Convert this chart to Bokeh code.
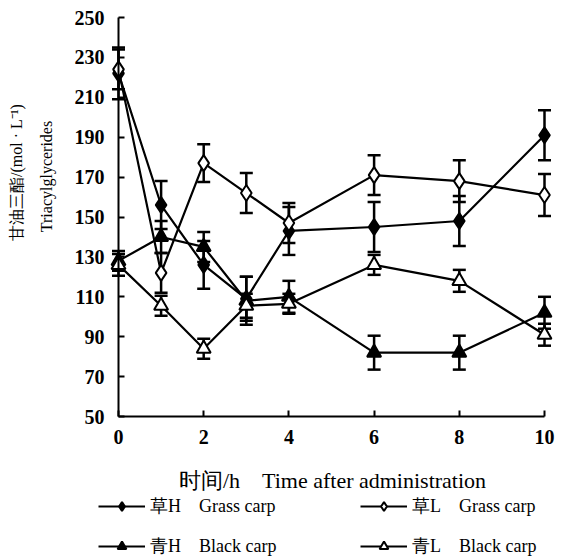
import math
from bokeh.plotting import figure
from bokeh.models import (ColumnDataSource, Whisker, TeeHead, FixedTicker, Label,
                          Legend, LegendItem, Range1d, LinearAxis)
from bokeh.embed import file_html
from bokeh.resources import INLINE

# ---- data ----
hours = [0, 1, 2, 3, 4, 6, 8, 10]

grass_h = [222, 156, 126, 109, 143, 145, 148, 191]
grass_h_err = [13, 12, 12, 11, 12, 12.5, 12.5, 12.5]

grass_l = [224, 122, 177, 162, 147, 171, 168, 161]
grass_l_err = [10, 10, 9.5, 10, 10, 10, 10.5, 10.5]

black_h = [128, 140, 135, 108, 110, 82, 82, 102]
black_h_err = [5, 8, 7.5, 12, 8, 8.5, 8.5, 8]

black_l = [126, 105.5, 84, 105.5, 106.5, 126, 118, 91]
black_l_err = [5.5, 5, 5, 6, 5, 5, 5.5, 5.5]

x_ticks = [0, 2, 4, 6, 8, 10]
y_ticks = [50, 70, 90, 110, 130, 150, 170, 190, 210, 230, 250]

NB = "\u00a0"
series_labels = ["草H" + NB * 4 + "Grass carp", "草L" + NB * 4 + "Grass carp",
                 "青H" + NB * 4 + "Black carp", "青L" + NB * 4 + "Black carp"]
series_vals = [grass_h, grass_l, black_h, black_l]
series_errs = [grass_h_err, grass_l_err, black_h_err, black_l_err]
series_marker = ["diamond", "diamond", "triangle", "triangle"]
series_fill = ["black", "white", "black", "white"]

y_title_en = "Triacylglycerides"
y_title_cn = "甘油三酯/(mol · L⁻¹)"
x_title = "时间/h" + NB * 4 + "Time after administration"

SERIF = "Liberation Serif"

# ---- layout (pixels): the frame covers the whole canvas ----
W, H = 566, 560
X0_PX, X10_PX = 118, 544      # where x = 0 and x = 10 fall
Y250_PX, Y50_PX = 17, 416     # where y = 250 and y = 50 fall
sx = (X10_PX - X0_PX) / 10.0
sy = (Y50_PX - Y250_PX) / 200.0
x_start = 0 - X0_PX / sx
x_end = 10 + (W - X10_PX) / sx
y_end = 250 + Y250_PX / sy
y_start = 50 - (H - Y50_PX) / sy


def dx(px):
    return x_start + px / sx


def dy(py):
    return y_end - py / sy


p = figure(width=W, height=H, min_border=0,
           x_range=Range1d(x_start, x_end), y_range=Range1d(y_start, y_end),
           x_axis_location=None, y_axis_location=None,
           output_backend="svg", toolbar_location=None)
p.outline_line_color = None
p.grid.visible = False
p.background_fill_color = "white"
p.border_fill_color = "white"

xa = LinearAxis(fixed_location=50, bounds=(0, 10), ticker=FixedTicker(ticks=x_ticks))
ya = LinearAxis(fixed_location=0, bounds=(50, 250), ticker=FixedTicker(ticks=y_ticks))
for ax in (xa, ya):
    ax.axis_line_width = 2
    ax.axis_line_color = "black"
    ax.major_tick_line_width = 2
    ax.major_tick_line_color = "black"
    ax.major_tick_in = 6
    ax.major_tick_out = 0
    ax.minor_tick_line_color = None
    ax.major_label_text_font = SERIF
    ax.major_label_text_font_size = "20px"
    ax.major_label_text_font_style = "bold"
    ax.major_label_text_color = "black"
xa.major_label_standoff = 13
ya.major_label_standoff = 14
p.add_layout(xa, "below")
p.add_layout(ya, "left")

line_rs = []
marker_rs = []
for vals in series_vals:
    line_rs.append(p.line(hours, vals, line_color="black", line_width=2.2))

for vals, errs in zip(series_vals, series_errs):
    src = ColumnDataSource(dict(
        x=hours,
        upper=[v + e for v, e in zip(vals, errs)],
        lower=[v - e for v, e in zip(vals, errs)],
    ))
    p.add_layout(Whisker(source=src, base="x", upper="upper", lower="lower",
                         dimension="height", line_width=2.5, line_color="black",
                         upper_head=TeeHead(size=13, line_width=2.5, line_color="black"),
                         lower_head=TeeHead(size=13, line_width=2.5, line_color="black")))

for vals, marker, fill in zip(series_vals, series_marker, series_fill):
    size = 16 if marker == "diamond" else 14
    marker_rs.append(p.scatter(hours, vals, marker=marker, size=size, fill_color=fill,
                               line_color="black", line_width=2))

items = [LegendItem(label=series_labels[i], renderers=[line_rs[i], marker_rs[i]])
         for i in range(4)]
common = dict(orientation="vertical", glyph_width=47, glyph_height=22,
              label_height=22, spacing=16, padding=0, margin=0,
              border_line_color=None, background_fill_alpha=0,
              label_text_font=SERIF, label_text_font_size="18px",
              label_text_color="black", label_standoff=5)
p.add_layout(Legend(items=[items[0], items[2]], location=(98, 2), **common))
p.add_layout(Legend(items=[items[1], items[3]], location=(360, 2), **common))

p.add_layout(Label(x=dx(46), y=dy(176), text=y_title_en, angle=math.pi / 2,
                   text_align="center", text_baseline="middle",
                   text_font=SERIF, text_font_size="16px", text_color="black"))
p.add_layout(Label(x=dx(16), y=dy(172), text=y_title_cn, angle=math.pi / 2,
                   text_align="center", text_baseline="middle",
                   text_font=SERIF, text_font_size="16px", text_color="black"))
p.add_layout(Label(x=dx(332), y=dy(480), text=x_title,
                   text_align="center", text_baseline="middle",
                   text_font=SERIF, text_font_size="22px", text_color="black"))

open("out.html", "w").write(file_html(p, INLINE))
